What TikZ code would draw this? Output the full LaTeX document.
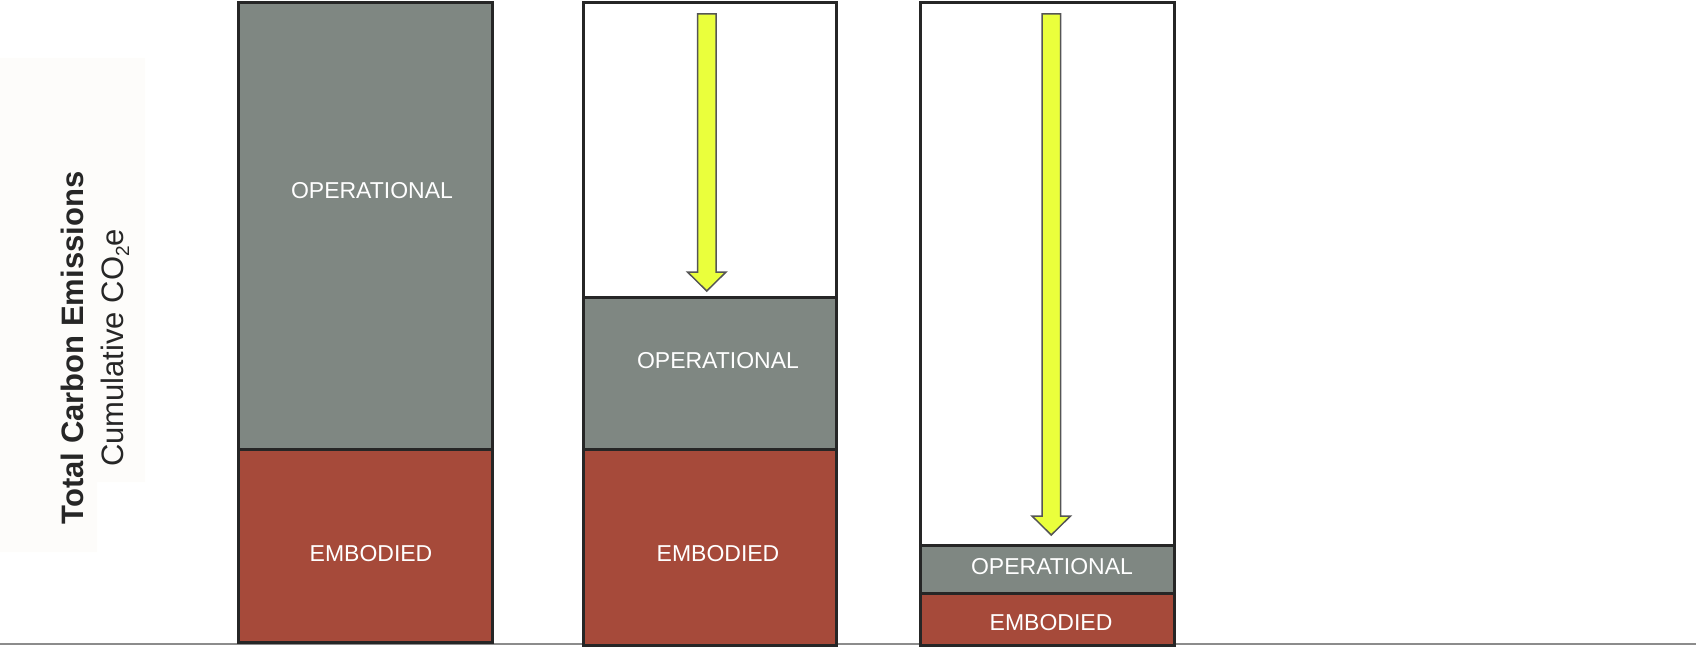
\documentclass[tikz,border=0pt]{standalone}
\usepackage{fontspec}
\setmainfont{Liberation Sans}
\definecolor{opgray}{RGB}{127,135,130}
\definecolor{embred}{RGB}{166,74,58}
\definecolor{barline}{RGB}{38,38,38}
\definecolor{arrowfill}{RGB}{234,255,60}
\definecolor{arrowline}{RGB}{85,85,85}
\definecolor{baseln}{RGB}{140,140,140}
\definecolor{labelbg}{RGB}{253,252,250}
\begin{document}
\begin{tikzpicture}[x=1pt,y=-1pt,
  seg/.style={draw=barline,line width=3pt},
  segtext/.style={text=white,font=\fontsize{23}{26}\selectfont,inner sep=0pt},
  downarrow/.style={fill=arrowfill,draw=arrowline,line width=1.5pt,line join=miter},
  axislabel/.style={rotate=90,anchor=base,inner sep=0pt,text=black!85,font=\fontsize{31}{34}\selectfont}]
\useasboundingbox (0,0) rectangle (1696,647);
% faint label background
\fill[labelbg] (0,58) -- (145,58) -- (145,482) -- (97,482) -- (97,552) -- (0,552) -- cycle;
% baseline
\coordinate (bl) at (0,644);
\coordinate (br) at (1696,644);
\draw[baseln,line width=1.6pt] (bl) -- (br);
% bar 1
\draw[seg,fill=opgray] (238,3) rectangle (492,449);
\draw[seg,fill=embred] (238,449) rectangle (492,642);
\node[segtext] (op1) at (372,191) {OPERATIONAL};
\node[segtext] (em1) at (371,554) {EMBODIED};
% bar 2
\draw[seg,fill=white] (583,3) rectangle (836,297);
\draw[seg,fill=opgray] (583,297) rectangle (836,449);
\draw[seg,fill=embred] (583,449) rectangle (836,645);
\node[segtext] (op2) at (718,361) {OPERATIONAL};
\node[segtext] (em2) at (718,554) {EMBODIED};
\draw[downarrow] (697.5,14) -- (716,14) -- (716,272) -- (726,272) -- (706.75,291) -- (687.5,272) -- (697.5,272) -- cycle;
% bar 3
\draw[seg,fill=white] (920,3) rectangle (1174,545);
\draw[seg,fill=opgray] (920,545) rectangle (1174,593);
\draw[seg,fill=embred] (920,593) rectangle (1174,645);
\node[segtext] (op3) at (1052,567) {OPERATIONAL};
\node[segtext] (em3) at (1051,623) {EMBODIED};
\draw[downarrow] (1042,14) -- (1060.5,14) -- (1060.5,516) -- (1070.5,516) -- (1051.25,535) -- (1032,516) -- (1042,516) -- cycle;
% axis label
\node[axislabel,font=\fontsize{31}{34}\selectfont\bfseries] (ylab1) at (83,348) {Total Carbon Emissions};
\node[axislabel] (ylab2) at (123,348) {Cumulative CO\raisebox{-6pt}{\fontsize{19}{19}\selectfont 2}e};
\end{tikzpicture}
\end{document}
